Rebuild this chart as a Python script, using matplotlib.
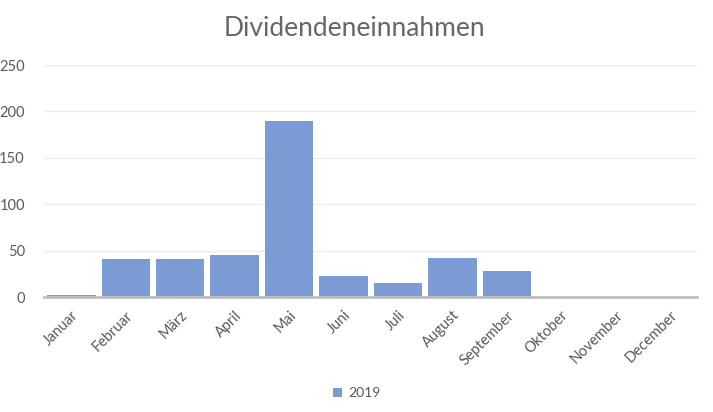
import numpy as np
import matplotlib.pyplot as plt

months = ['Januar', 'Februar', 'März', 'April', 'Mai', 'Juni', 'Juli',
          'August', 'September', 'Oktober', 'November', 'December']
values_2019 = [2, 41, 41, 45, 190, 23, 15, 42, 28, 0, 0, 0]

plt.rcParams['font.family'] = ['Lato', 'DejaVu Sans']
grey = '#595959'

fig = plt.figure(figsize=(7.13, 4.12), dpi=100)
ax = fig.add_axes([0.062, 0.279, 0.916, 0.563])

x = np.arange(len(months))
ax.bar(x, values_2019, width=0.89, color='#7B9BD5', label='2019', zorder=2)

ax.set_xlim(-0.5, len(months) - 0.5)
ax.set_ylim(0, 250)
ax.set_yticks(range(0, 251, 50))
ax.set_xticks(x)
ax.set_xticklabels(months, rotation=45, ha='right', rotation_mode='anchor')
ax.tick_params(axis='both', length=0, labelsize=10.5, colors=grey)
ax.tick_params(axis='x', pad=8)
ax.tick_params(axis='y', pad=14)

ax.grid(axis='y', color='#EDEDED', linewidth=1, zorder=0)
for s in ['top', 'right', 'left']:
    ax.spines[s].set_visible(False)
ax.spines['bottom'].set_color('#BFBFBF')
ax.spines['bottom'].set_linewidth(2)
ax.spines['bottom'].set_zorder(3)

fig.text(0.497, 0.93, 'Dividendeneinnahmen', ha='center', va='center',
         fontsize=19, color='#666666')

fig.legend(loc='center', bbox_to_anchor=(0.5, 0.045), frameon=False,
           fontsize=10, labelcolor=grey, handlelength=0.7, handleheight=0.7,
           handletextpad=0.4)

fig.savefig('out.png', dpi=100)
